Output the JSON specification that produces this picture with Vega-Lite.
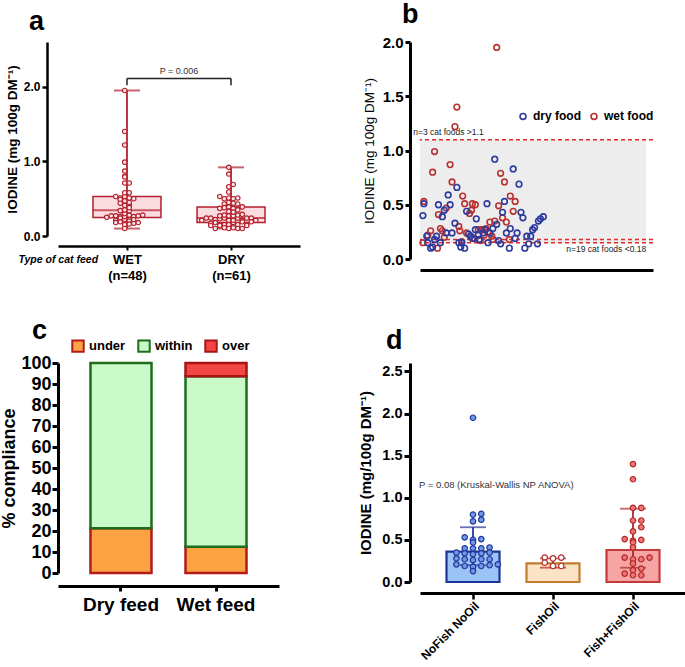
{
  "$schema": "https://vega.github.io/schema/vega-lite/v6.json",
  "background": "white",
  "padding": {"left": 0, "top": 1, "right": 2, "bottom": 2},
  "config": {
    "font": "Liberation Sans",
    "view": {"stroke": null},
    "axis": {"labelColor": "#000", "titleColor": "#000", "domainColor": "#000", "tickColor": "#000", "grid": false, "labelOverlap": false},
    "axisY": {"labelOverlap": false},
    "legend": {"labelColor": "#000"}
  },
  "columns": 2,
  "bounds": "flush",
  "align": "each",
  "spacing": {"row": 104, "column": 120},
  "resolve": {
    "scale": {"color": "independent", "fill": "independent", "stroke": "independent", "xOffset": "independent"},
    "legend": {"color": "independent", "fill": "independent", "stroke": "independent"}
  },
  "datasets": {
    "iodine": [
      {"feed": "WET", "sample": 3, "iodine": 0.15}, {"feed": "WET", "sample": 4, "iodine": 0.53}, {"feed": "WET", "sample": 8, "iodine": 0.22},
      {"feed": "WET", "sample": 11, "iodine": 0.26}, {"feed": "WET", "sample": 13, "iodine": 0.80}, {"feed": "WET", "sample": 15, "iodine": 0.99},
      {"feed": "WET", "sample": 18, "iodine": 0.10}, {"feed": "WET", "sample": 19, "iodine": 0.41}, {"feed": "WET", "sample": 21, "iodine": 0.28},
      {"feed": "WET", "sample": 23, "iodine": 0.26}, {"feed": "WET", "sample": 25, "iodine": 0.20}, {"feed": "WET", "sample": 27, "iodine": 0.47},
      {"feed": "WET", "sample": 31, "iodine": 0.87}, {"feed": "WET", "sample": 33, "iodine": 0.71}, {"feed": "WET", "sample": 36, "iodine": 1.22},
      {"feed": "WET", "sample": 38, "iodine": 1.40}, {"feed": "WET", "sample": 40, "iodine": 0.30}, {"feed": "WET", "sample": 41, "iodine": 0.26},
      {"feed": "WET", "sample": 43, "iodine": 0.16}, {"feed": "WET", "sample": 44, "iodine": 0.58}, {"feed": "WET", "sample": 46, "iodine": 0.51},
      {"feed": "WET", "sample": 48, "iodine": 0.24}, {"feed": "WET", "sample": 51, "iodine": 0.42}, {"feed": "WET", "sample": 53, "iodine": 0.45},
      {"feed": "WET", "sample": 54, "iodine": 0.51}, {"feed": "WET", "sample": 56, "iodine": 0.19}, {"feed": "WET", "sample": 57, "iodine": 0.50},
      {"feed": "WET", "sample": 60, "iodine": 0.27}, {"feed": "WET", "sample": 62, "iodine": 0.17}, {"feed": "WET", "sample": 63, "iodine": 0.27},
      {"feed": "WET", "sample": 64, "iodine": 0.27}, {"feed": "WET", "sample": 66, "iodine": 0.22}, {"feed": "WET", "sample": 68, "iodine": 0.28},
      {"feed": "WET", "sample": 70, "iodine": 0.25}, {"feed": "WET", "sample": 72, "iodine": 0.34}, {"feed": "WET", "sample": 74, "iodine": 0.21},
      {"feed": "WET", "sample": 75, "iodine": 0.18}, {"feed": "WET", "sample": 77, "iodine": 0.35}, {"feed": "WET", "sample": 79, "iodine": 1.95},
      {"feed": "WET", "sample": 81, "iodine": 0.49}, {"feed": "WET", "sample": 83, "iodine": 0.79}, {"feed": "WET", "sample": 85, "iodine": 0.38},
      {"feed": "WET", "sample": 87, "iodine": 0.71}, {"feed": "WET", "sample": 89, "iodine": 0.34}, {"feed": "WET", "sample": 92, "iodine": 0.18},
      {"feed": "WET", "sample": 93, "iodine": 0.58}, {"feed": "WET", "sample": 96, "iodine": 0.44}, {"feed": "WET", "sample": 98, "iodine": 0.53},
      {"feed": "DRY", "sample": 3, "iodine": 0.40}, {"feed": "DRY", "sample": 4, "iodine": 0.51}, {"feed": "DRY", "sample": 7, "iodine": 0.21},
      {"feed": "DRY", "sample": 8, "iodine": 0.15}, {"feed": "DRY", "sample": 11, "iodine": 0.10}, {"feed": "DRY", "sample": 13, "iodine": 0.11},
      {"feed": "DRY", "sample": 15, "iodine": 0.18}, {"feed": "DRY", "sample": 17, "iodine": 0.21}, {"feed": "DRY", "sample": 19, "iodine": 0.50},
      {"feed": "DRY", "sample": 21, "iodine": 0.15}, {"feed": "DRY", "sample": 23, "iodine": 0.39}, {"feed": "DRY", "sample": 25, "iodine": 0.45},
      {"feed": "DRY", "sample": 27, "iodine": 0.24}, {"feed": "DRY", "sample": 29, "iodine": 0.59}, {"feed": "DRY", "sample": 31, "iodine": 0.50},
      {"feed": "DRY", "sample": 33, "iodine": 0.24}, {"feed": "DRY", "sample": 36, "iodine": 0.33}, {"feed": "DRY", "sample": 38, "iodine": 0.66},
      {"feed": "DRY", "sample": 40, "iodine": 0.15}, {"feed": "DRY", "sample": 42, "iodine": 0.11}, {"feed": "DRY", "sample": 43, "iodine": 0.15},
      {"feed": "DRY", "sample": 46, "iodine": 0.10}, {"feed": "DRY", "sample": 48, "iodine": 0.44}, {"feed": "DRY", "sample": 50, "iodine": 0.23},
      {"feed": "DRY", "sample": 52, "iodine": 0.21}, {"feed": "DRY", "sample": 54, "iodine": 0.19}, {"feed": "DRY", "sample": 57, "iodine": 0.27},
      {"feed": "DRY", "sample": 58, "iodine": 0.37}, {"feed": "DRY", "sample": 60, "iodine": 0.22}, {"feed": "DRY", "sample": 61, "iodine": 0.18},
      {"feed": "DRY", "sample": 65, "iodine": 0.24}, {"feed": "DRY", "sample": 67, "iodine": 0.27}, {"feed": "DRY", "sample": 69, "iodine": 0.51},
      {"feed": "DRY", "sample": 70, "iodine": 0.15}, {"feed": "DRY", "sample": 72, "iodine": 0.24}, {"feed": "DRY", "sample": 75, "iodine": 0.28},
      {"feed": "DRY", "sample": 77, "iodine": 0.92}, {"feed": "DRY", "sample": 79, "iodine": 0.32}, {"feed": "DRY", "sample": 81, "iodine": 0.17},
      {"feed": "DRY", "sample": 83, "iodine": 0.14}, {"feed": "DRY", "sample": 85, "iodine": 0.43}, {"feed": "DRY", "sample": 87, "iodine": 0.53},
      {"feed": "DRY", "sample": 89, "iodine": 0.24}, {"feed": "DRY", "sample": 92, "iodine": 0.10}, {"feed": "DRY", "sample": 93, "iodine": 0.28},
      {"feed": "DRY", "sample": 96, "iodine": 0.83}, {"feed": "DRY", "sample": 98, "iodine": 0.19}, {"feed": "DRY", "sample": 100, "iodine": 0.24},
      {"feed": "DRY", "sample": 102, "iodine": 0.69}, {"feed": "DRY", "sample": 104, "iodine": 0.43}, {"feed": "DRY", "sample": 106, "iodine": 0.38},
      {"feed": "DRY", "sample": 108, "iodine": 0.10}, {"feed": "DRY", "sample": 110, "iodine": 0.21}, {"feed": "DRY", "sample": 112, "iodine": 0.14},
      {"feed": "DRY", "sample": 114, "iodine": 0.21}, {"feed": "DRY", "sample": 116, "iodine": 0.27}, {"feed": "DRY", "sample": 118, "iodine": 0.29},
      {"feed": "DRY", "sample": 121, "iodine": 0.14}, {"feed": "DRY", "sample": 122, "iodine": 0.35}, {"feed": "DRY", "sample": 124, "iodine": 0.37},
      {"feed": "DRY", "sample": 127, "iodine": 0.39}
    ],
    "fish": [
      {"group": "NoFish NoOil", "iodine": 1.95}, {"group": "NoFish NoOil", "iodine": 0.81}, {"group": "NoFish NoOil", "iodine": 0.80},
      {"group": "NoFish NoOil", "iodine": 0.74}, {"group": "NoFish NoOil", "iodine": 0.72}, {"group": "NoFish NoOil", "iodine": 0.51},
      {"group": "NoFish NoOil", "iodine": 0.53}, {"group": "NoFish NoOil", "iodine": 0.50}, {"group": "NoFish NoOil", "iodine": 0.47},
      {"group": "NoFish NoOil", "iodine": 0.40}, {"group": "NoFish NoOil", "iodine": 0.41}, {"group": "NoFish NoOil", "iodine": 0.40},
      {"group": "NoFish NoOil", "iodine": 0.40}, {"group": "NoFish NoOil", "iodine": 0.34}, {"group": "NoFish NoOil", "iodine": 0.34},
      {"group": "NoFish NoOil", "iodine": 0.33}, {"group": "NoFish NoOil", "iodine": 0.35}, {"group": "NoFish NoOil", "iodine": 0.35},
      {"group": "NoFish NoOil", "iodine": 0.27}, {"group": "NoFish NoOil", "iodine": 0.27}, {"group": "NoFish NoOil", "iodine": 0.28},
      {"group": "NoFish NoOil", "iodine": 0.26}, {"group": "NoFish NoOil", "iodine": 0.27}, {"group": "NoFish NoOil", "iodine": 0.21},
      {"group": "NoFish NoOil", "iodine": 0.20}, {"group": "NoFish NoOil", "iodine": 0.19}, {"group": "NoFish NoOil", "iodine": 0.18},
      {"group": "NoFish NoOil", "iodine": 0.19}, {"group": "NoFish NoOil", "iodine": 0.21}, {"group": "NoFish NoOil", "iodine": 0.13},
      {"group": "FishOil", "iodine": 0.29}, {"group": "FishOil", "iodine": 0.29}, {"group": "FishOil", "iodine": 0.28},
      {"group": "FishOil", "iodine": 0.23}, {"group": "FishOil", "iodine": 0.19}, {"group": "FishOil", "iodine": 0.19},
      {"group": "Fish+FishOil", "iodine": 1.40}, {"group": "Fish+FishOil", "iodine": 1.22}, {"group": "Fish+FishOil", "iodine": 0.88},
      {"group": "Fish+FishOil", "iodine": 0.88}, {"group": "Fish+FishOil", "iodine": 0.73}, {"group": "Fish+FishOil", "iodine": 0.73},
      {"group": "Fish+FishOil", "iodine": 0.60}, {"group": "Fish+FishOil", "iodine": 0.65}, {"group": "Fish+FishOil", "iodine": 0.51},
      {"group": "Fish+FishOil", "iodine": 0.49}, {"group": "Fish+FishOil", "iodine": 0.50}, {"group": "Fish+FishOil", "iodine": 0.47},
      {"group": "Fish+FishOil", "iodine": 0.41}, {"group": "Fish+FishOil", "iodine": 0.29}, {"group": "Fish+FishOil", "iodine": 0.29},
      {"group": "Fish+FishOil", "iodine": 0.27}, {"group": "Fish+FishOil", "iodine": 0.27}, {"group": "Fish+FishOil", "iodine": 0.16},
      {"group": "Fish+FishOil", "iodine": 0.14}, {"group": "Fish+FishOil", "iodine": 0.22}, {"group": "Fish+FishOil", "iodine": 0.10},
      {"group": "Fish+FishOil", "iodine": 0.08}, {"group": "Fish+FishOil", "iodine": 0.08}
    ],
    "fishsummary": [
      {"group": "NoFish NoOil", "mean": 0.36, "lo": 0.20, "hi": 0.65},
      {"group": "FishOil", "mean": 0.22, "lo": 0.17, "hi": 0.28},
      {"group": "Fish+FishOil", "mean": 0.38, "lo": 0.17, "hi": 0.87}
    ]
  },
  "concat": [
    {
      "width": 242,
      "height": 194,
      "title": {"text": "a", "anchor": "start", "frame": "group", "fontSize": 27, "fontWeight": "bold", "dx": -29, "offset": 6},
      "layer": [
        {
          "data": {"name": "iodine"},
          "transform": [
            {"aggregate": [
              {"op": "min", "field": "iodine", "as": "mn"},
              {"op": "q1", "field": "iodine", "as": "q1"},
              {"op": "median", "field": "iodine", "as": "med"},
              {"op": "q3", "field": "iodine", "as": "q3"},
              {"op": "max", "field": "iodine", "as": "mx"}
            ], "groupby": ["feed"]}
          ],
          "layer": [
            {
              "mark": {"type": "rule", "color": "#b3202c", "strokeWidth": 1.8},
              "encoding": {
                "x": {
                  "field": "feed", "type": "nominal",
                  "scale": {"type": "point", "domain": ["WET", "DRY"], "padding": 0.663},
                  "axis": {
                    "title": "Type of cat feed", "titleFontStyle": "italic", "titleFontWeight": "bold", "titleFontSize": 10.5,
                    "titleAlign": "left", "titleAnchor": "start", "titleX": -40, "titleY": 8, "titleBaseline": "top",
                    "labelExpr": "datum.label == 'WET' ? ['WET','(n=48)'] : ['DRY','(n=61)']",
                    "labelFontSize": 13, "labelFontWeight": "bold", "labelLineHeight": 16, "labelPadding": 3, "labelAngle": 0,
                    "domainWidth": 2.5, "tickWidth": 2, "tickSize": 4, "offset": 10
                  }
                },
                "y": {
                  "field": "mn", "type": "quantitative",
                  "scale": {"domain": [0, 2.5]},
                  "axis": {
                    "values": [0, 0.5, 1, 1.5, 2, 2.5], "format": ".1f", "labelOverlap": false, "labelSeparation": 0,
                    "title": "IODINE (mg 100g DM⁻¹)", "titleFontSize": 13.5, "titleFontWeight": "bold", "titlePadding": 4,
                    "labelFontSize": 12, "labelFontWeight": "bold", "labelPadding": 2,
                    "domainWidth": 2.5, "tickWidth": 2.5, "tickSize": 5, "offset": 11
                  }
                },
                "y2": {"field": "mx"}
              }
            },
            {
              "mark": {"type": "bar", "size": 68, "fill": "#f9d6da", "fillOpacity": 0.85, "stroke": "#b3202c", "strokeWidth": 1.5},
              "encoding": {
                "x": {"field": "feed", "type": "nominal"},
                "y": {"field": "q1", "type": "quantitative"},
                "y2": {"field": "q3"}
              }
            },
            {
              "mark": {"type": "tick", "size": 68, "thickness": 2, "color": "#b3202c"},
              "encoding": {"x": {"field": "feed", "type": "nominal"}, "y": {"field": "med", "type": "quantitative"}}
            },
            {
              "mark": {"type": "tick", "size": 26, "thickness": 2, "color": "#b3202c"},
              "encoding": {"x": {"field": "feed", "type": "nominal"}, "y": {"field": "mx", "type": "quantitative"}}
            },
            {
              "mark": {"type": "tick", "size": 26, "thickness": 2, "color": "#b3202c"},
              "encoding": {"x": {"field": "feed", "type": "nominal"}, "y": {"field": "mn", "type": "quantitative"}}
            }
          ]
        },
        {
          "data": {"name": "iodine"},
          "transform": [
            {"bin": {"step": 0.05}, "field": "iodine", "as": "ibin"},
            {"window": [{"op": "row_number", "as": "slot"}], "groupby": ["feed", "ibin"], "sort": [{"field": "sample"}]}
          ],
          "mark": {"type": "point", "shape": "circle", "filled": true, "fill": "#fbe6e8", "stroke": "#b3202c", "strokeWidth": 1.1, "size": 20, "opacity": 1},
          "encoding": {
            "x": {"field": "feed", "type": "nominal"},
            "xOffset": {"field": "slot", "type": "nominal", "scale": {"type": "point", "domain": [15, 13, 11, 9, 7, 5, 3, 1, 2, 4, 6, 8, 10, 12, 14, 16], "range": [-36, 36]}},
            "y": {
              "field": "iodine", "type": "quantitative",
              "axis": {
                "values": [0, 0.5, 1, 1.5, 2, 2.5], "format": ".1f", "labelOverlap": false, "labelSeparation": 0,
                "title": "IODINE (mg 100g DM⁻¹)", "titleFontSize": 13.5, "titleFontWeight": "bold", "titlePadding": 4,
                "labelFontSize": 12, "labelFontWeight": "bold", "labelPadding": 2,
                "domainWidth": 2.5, "tickWidth": 2.5, "tickSize": 5, "offset": 11
              }
            }
          }
        },
        {
          "data": {"values": [{"a": "WET", "b": "DRY", "y": 2.11}]},
          "mark": {"type": "rule", "color": "#222", "strokeWidth": 1.5},
          "encoding": {"x": {"field": "a", "type": "nominal"}, "x2": {"field": "b"}, "y": {"field": "y", "type": "quantitative"}}
        },
        {
          "data": {"values": [{"f": "WET", "lo": 2.02, "hi": 2.11}, {"f": "DRY", "lo": 2.02, "hi": 2.11}]},
          "mark": {"type": "rule", "color": "#222", "strokeWidth": 1.5},
          "encoding": {"x": {"field": "f", "type": "nominal"}, "y": {"field": "lo", "type": "quantitative"}, "y2": {"field": "hi"}}
        },
        {
          "data": {"values": [{"t": "P = 0.006", "f": "WET", "y": 2.15}]},
          "mark": {"type": "text", "dx": 52, "baseline": "bottom", "fontSize": 9, "color": "#333"},
          "encoding": {"x": {"field": "f", "type": "nominal"}, "y": {"field": "y", "type": "quantitative"}, "text": {"field": "t"}}
        }
      ]
    },
    {
      "width": 233,
      "height": 217,
      "title": {"text": "b", "anchor": "start", "frame": "group", "fontSize": 27, "fontWeight": "bold", "dx": -18, "offset": 6},
      "layer": [
        {
          "data": {"values": [{"lo": 0.15, "hi": 1.1}]},
          "mark": {"type": "rect", "fill": "#ededed"},
          "encoding": {"x": {"datum": 0, "type": "quantitative"}, "x2": {"datum": 233}, "y": {"field": "lo", "type": "quantitative"}, "y2": {"field": "hi"}}
        },
        {
          "data": {"values": [{"limit": 1.1}, {"limit": 0.18}, {"limit": 0.15}]},
          "mark": {"type": "rule", "color": "#e02b2b", "strokeDash": [4, 3], "strokeWidth": 1.5},
          "encoding": {"y": {"field": "limit", "type": "quantitative"}}
        },
        {
          "data": {"name": "iodine"},
          "mark": {"type": "point", "shape": "circle", "filled": false, "strokeWidth": 1.6, "size": 32, "opacity": 1},
          "encoding": {
            "x": {"field": "sample", "type": "quantitative", "scale": {"domain": [0, 233]}, "axis": {"title": null, "labels": false, "ticks": false, "domainWidth": 3, "offset": 11}},
            "y": {
              "field": "iodine", "type": "quantitative", "scale": {"domain": [0, 2]},
              "axis": {
                "values": [0, 0.5, 1, 1.5, 2], "format": ".1f", "labelOverlap": false,
                "title": "IODINE (mg 100g DM⁻¹)", "titleFontSize": 13.5, "titleFontWeight": "normal", "titlePadding": 6,
                "labelFontSize": 15, "labelFontWeight": "bold", "labelPadding": 2,
                "domainWidth": 3, "tickWidth": 3, "tickSize": 5, "offset": 10
              }
            },
            "color": {
              "field": "feed", "type": "nominal",
              "scale": {"domain": ["DRY", "WET"], "range": ["#2d3a9e", "#b83232"]},
              "legend": {
                "title": null, "orient": "none", "legendX": 97, "legendY": 68, "direction": "horizontal",
                "labelFontSize": 12, "labelFontWeight": "bold", "symbolSize": 35, "symbolStrokeWidth": 1.6, "columnPadding": 6,
                "labelExpr": "datum.label == 'DRY' ? 'dry food' : 'wet food'"
              }
            }
          }
        },
        {
          "data": {"values": [{"t": "n=3 cat foods >1.1", "s": -7, "v": 1.1}]},
          "mark": {"type": "text", "align": "left", "baseline": "bottom", "dy": -3, "fontSize": 8.5, "color": "#222"},
          "encoding": {"x": {"field": "s", "type": "quantitative"}, "y": {"field": "v", "type": "quantitative"}, "text": {"field": "t"}}
        },
        {
          "data": {"values": [{"t": "n=19 cat foods <0.18", "s": 233, "v": 0.15}]},
          "mark": {"type": "text", "align": "right", "baseline": "top", "dy": 2, "fontSize": 8.5, "color": "#222"},
          "encoding": {"x": {"field": "s", "type": "quantitative"}, "y": {"field": "v", "type": "quantitative"}, "text": {"field": "t"}}
        }
      ]
    },
    {
      "width": 221,
      "height": 210,
      "title": {"text": "c", "anchor": "start", "frame": "group", "fontSize": 27, "fontWeight": "bold", "dx": -26, "dy": 6, "offset": 0},
      "data": {"values": [
        {"feed": "Dry feed", "status": "under", "pct": 21.3},
        {"feed": "Dry feed", "status": "within", "pct": 78.7},
        {"feed": "Wet feed", "status": "under", "pct": 12.5},
        {"feed": "Wet feed", "status": "within", "pct": 81.25},
        {"feed": "Wet feed", "status": "over", "pct": 6.25}
      ]},
      "transform": [
        {"window": [{"op": "row_number", "as": "rn"}]}
      ],
      "mark": {"type": "bar", "strokeWidth": 2.5},
      "encoding": {
        "x": {
          "field": "feed", "type": "nominal",
          "scale": {"paddingInner": 0.358, "paddingOuter": 0.342},
          "axis": {"title": null, "labelAngle": 0, "labelFontSize": 19, "labelFontWeight": "bold", "domainWidth": 3, "tickWidth": 3, "tickSize": 5, "offset": 13, "labelPadding": 4}
        },
        "y": {
          "field": "pct", "type": "quantitative", "stack": "zero",
          "scale": {"domain": [0, 100]},
          "axis": {
            "values": [0, 10, 20, 30, 40, 50, 60, 70, 80, 90, 100], "labelOverlap": false,
            "title": "% compliance", "titleFontSize": 18, "titleFontWeight": "bold", "titlePadding": 2,
            "labelFontSize": 18, "labelFontWeight": "bold", "labelPadding": 1,
            "domainWidth": 3, "tickWidth": 3, "tickSize": 6
          }
        },
        "order": {"field": "rn", "type": "quantitative"},
        "fill": {
          "field": "status", "type": "nominal", "sort": ["under", "within", "over"],
          "scale": {"domain": ["under", "within", "over"], "range": ["#fba343", "#c9f9c9", "#f54646"]},
          "legend": {
            "title": null, "orient": "none", "legendX": 13, "legendY": -24, "direction": "horizontal",
            "symbolType": "square", "symbolSize": 130, "symbolStrokeWidth": 2, "labelFontSize": 13, "labelFontWeight": "bold", "columnPadding": 8
          }
        },
        "stroke": {
          "field": "status", "type": "nominal", "sort": ["under", "within", "over"],
          "scale": {"domain": ["under", "within", "over"], "range": ["#b31b1b", "#1d6d1d", "#a81515"]},
          "legend": {
            "title": null, "orient": "none", "legendX": 13, "legendY": -24, "direction": "horizontal",
            "symbolType": "square", "symbolSize": 130, "symbolStrokeWidth": 2, "labelFontSize": 13, "labelFontWeight": "bold", "columnPadding": 8
          }
        }
      }
    },
    {
      "width": 266,
      "height": 219,
      "title": {"text": "d", "anchor": "start", "frame": "group", "fontSize": 27, "fontWeight": "bold", "dx": -34, "offset": 8},
      "resolve": {"scale": {"fill": "independent", "stroke": "independent"}},
      "layer": [
        {
          "data": {"name": "fishsummary"},
          "mark": {"type": "bar", "strokeWidth": 2.2, "size": 53},
          "encoding": {
            "x": {
              "field": "group", "type": "nominal",
              "scale": {"type": "point", "domain": ["NoFish NoOil", "FishOil", "Fish+FishOil"], "padding": 0.6625},
              "axis": {"title": null, "labelAngle": -45, "labelFontSize": 12, "labelFontWeight": "bold", "domainWidth": 3, "tickWidth": 2.5, "tickSize": 6, "offset": 11, "labelPadding": 1}
            },
            "y": {
              "field": "mean", "type": "quantitative",
              "scale": {"domain": [0, 2.57]},
              "axis": {
                "values": [0, 0.5, 1, 1.5, 2, 2.5], "format": ".1f", "labelOverlap": false,
                "title": "IODINE (mg/100g DM⁻¹)", "titleFontSize": 15, "titleFontWeight": "bold", "titlePadding": 8,
                "labelFontSize": 14.5, "labelFontWeight": "bold", "labelPadding": 2,
                "domainWidth": 3, "tickWidth": 3, "tickSize": 6, "offset": 10
              }
            },
            "fill": {"field": "group", "type": "nominal", "scale": {"domain": ["NoFish NoOil", "FishOil", "Fish+FishOil"], "range": ["#9cc3f6", "#fde3c6", "#f7a4a4"]}, "legend": null},
            "stroke": {"field": "group", "type": "nominal", "scale": {"domain": ["NoFish NoOil", "FishOil", "Fish+FishOil"], "range": ["#1d3597", "#c27c2c", "#c23a3a"]}, "legend": null}
          }
        },
        {
          "data": {"name": "fishsummary"},
          "mark": {"type": "rule", "strokeWidth": 1.8},
          "encoding": {
            "x": {"field": "group", "type": "nominal"},
            "y": {"field": "lo", "type": "quantitative"},
            "y2": {"field": "hi"},
            "color": {"field": "group", "type": "nominal", "scale": {"domain": ["NoFish NoOil", "FishOil", "Fish+FishOil"], "range": ["#24389a", "#b02828", "#b02828"]}, "legend": null}
          }
        },
        {
          "data": {"name": "fishsummary"},
          "mark": {"type": "tick", "thickness": 1.8, "size": 26},
          "encoding": {
            "x": {"field": "group", "type": "nominal"},
            "y": {"field": "hi", "type": "quantitative"},
            "color": {"field": "group", "type": "nominal", "legend": null}
          }
        },
        {
          "data": {"name": "fishsummary"},
          "mark": {"type": "tick", "thickness": 1.8, "size": 26},
          "encoding": {
            "x": {"field": "group", "type": "nominal"},
            "y": {"field": "lo", "type": "quantitative"},
            "color": {"field": "group", "type": "nominal", "legend": null}
          }
        },
        {
          "data": {"name": "fish"},
          "transform": [
            {"bin": {"step": 0.06}, "field": "iodine", "as": "ibin"},
            {"window": [{"op": "row_number", "as": "slot"}], "groupby": ["group", "ibin"], "sort": [{"field": "iodine"}]}
          ],
          "mark": {"type": "point", "shape": "circle", "filled": true, "size": 30, "strokeWidth": 1.2, "opacity": 1},
          "encoding": {
            "x": {"field": "group", "type": "nominal"},
            "xOffset": {"field": "slot", "type": "nominal", "scale": {"type": "point", "domain": [7, 5, 3, 1, 2, 4, 6], "range": [-29, 29]}},
            "y": {"field": "iodine", "type": "quantitative"},
            "fill": {"field": "group", "type": "nominal", "scale": {"domain": ["NoFish NoOil", "FishOil", "Fish+FishOil"], "range": ["#7198e6", "#ffffff", "#f07575"]}, "legend": null},
            "stroke": {"field": "group", "type": "nominal", "scale": {"domain": ["NoFish NoOil", "FishOil", "Fish+FishOil"], "range": ["#22379a", "#b02828", "#b02828"]}, "legend": null}
          }
        },
        {
          "data": {"values": [{"t": "P = 0.08 (Kruskal-Wallis NP ANOVA)", "g": "NoFish NoOil", "v": 1.15}]},
          "mark": {"type": "text", "align": "left", "dx": -54, "fontSize": 9.5, "color": "#333"},
          "encoding": {"x": {"field": "g", "type": "nominal"}, "y": {"field": "v", "type": "quantitative"}, "text": {"field": "t"}}
        }
      ]
    }
  ]
}
